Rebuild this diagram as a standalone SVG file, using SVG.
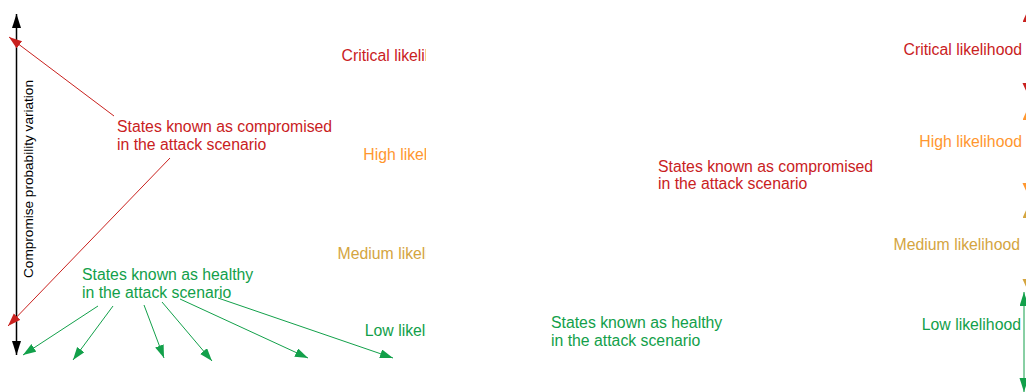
<svg xmlns="http://www.w3.org/2000/svg" width="1026" height="392" viewBox="0 0 1026 392">
<style>
text{font-family:"Liberation Sans",Arial,sans-serif;font-size:15.8px}
.red{fill:#c9211e}.orange{fill:#ff972f}.gold{fill:#d4a53f}.green{fill:#12a04a}
.lr{stroke:#c9211e;stroke-width:1;fill:none}
.lg{stroke:#12a04a;stroke-width:1;fill:none}
.lk{stroke:#000;stroke-width:1.5;fill:none}
.lo{stroke:#ff972f;stroke-width:1;fill:none}
.ly{stroke:#d4a53f;stroke-width:1;fill:none}
</style>
<defs>
<marker id="ar" markerUnits="userSpaceOnUse" markerWidth="14" markerHeight="10" refX="13" refY="4.5" orient="auto-start-reverse"><path d="M0,0 L13,4.5 L0,9 z" fill="#c9211e"/></marker>
<marker id="ag" markerUnits="userSpaceOnUse" markerWidth="14" markerHeight="10" refX="13" refY="4.5" orient="auto-start-reverse"><path d="M0,0 L13,4.5 L0,9 z" fill="#12a04a"/></marker>
<marker id="ak" markerUnits="userSpaceOnUse" markerWidth="15" markerHeight="10" refX="14" refY="4.5" orient="auto-start-reverse"><path d="M0,0 L14,4.5 L0,9 z" fill="#000"/></marker>
<marker id="ao" markerUnits="userSpaceOnUse" markerWidth="14" markerHeight="10" refX="10" refY="4.5" orient="auto-start-reverse"><path d="M0,0 L10,4.5 L0,9 z" fill="#ff972f"/></marker>
<marker id="ay" markerUnits="userSpaceOnUse" markerWidth="14" markerHeight="10" refX="10" refY="4.5" orient="auto-start-reverse"><path d="M0,0 L10,4.5 L0,9 z" fill="#d4a53f"/></marker>
<marker id="arr" markerUnits="userSpaceOnUse" markerWidth="14" markerHeight="10" refX="10" refY="4.5" orient="auto-start-reverse"><path d="M0,0 L10,4.5 L0,9 z" fill="#c9211e"/></marker>
<marker id="agg" markerUnits="userSpaceOnUse" markerWidth="14" markerHeight="10" refX="14" refY="4.5" orient="auto-start-reverse"><path d="M0,0 L14,4.5 L0,9 z" fill="#12a04a"/></marker>
<clipPath id="leftclip"><rect x="0" y="0" width="426" height="392"/></clipPath>
</defs>
<rect width="1026" height="392" fill="#fff"/>

<g id="connectors">
<line class="lk" x1="16.5" y1="14" x2="16.5" y2="355" marker-start="url(#ak)" marker-end="url(#ak)"/>
<line class="lr" x1="114" y1="116" x2="9" y2="37" marker-end="url(#ar)"/>
<line class="lr" x1="170" y1="158" x2="8" y2="326" marker-end="url(#ar)"/>
<line class="lg" x1="98" y1="306" x2="23" y2="355" marker-end="url(#ag)"/>
<line class="lg" x1="113" y1="306" x2="73" y2="360" marker-end="url(#ag)"/>
<line class="lg" x1="144" y1="305" x2="164" y2="358" marker-end="url(#ag)"/>
<line class="lg" x1="162" y1="302" x2="212" y2="361" marker-end="url(#ag)"/>
<line class="lg" x1="180" y1="299" x2="308" y2="358" marker-end="url(#ag)"/>
<line class="lg" x1="218" y1="298" x2="393" y2="358" marker-end="url(#ag)"/>
<line class="lr" x1="1027" y1="12" x2="1027" y2="93" marker-start="url(#arr)" marker-end="url(#arr)"/>
<line class="lo" x1="1027" y1="110" x2="1027" y2="193" marker-start="url(#ao)" marker-end="url(#ao)"/>
<line class="ly" x1="1027" y1="208" x2="1027" y2="289" marker-start="url(#ay)" marker-end="url(#ay)"/>
<line class="lg" x1="1024" y1="292" x2="1024" y2="392" marker-start="url(#agg)" marker-end="url(#agg)"/>
</g>

<g id="axis-label"><text x="33" y="179" text-anchor="middle" style="font-size:13.6px" transform="rotate(-90 33 179)">Compromise probability variation</text></g>

<g id="left-compromised"><text class="red" x="117" y="132">States known as compromised</text><text class="red" x="117" y="149.5">in the attack scenario</text></g>
<g id="left-healthy"><text class="green" x="82" y="280">States known as healthy</text><text class="green" x="82" y="297.5">in the attack scenario</text></g>

<g id="left-levels" clip-path="url(#leftclip)">
<text class="red" x="460" y="61" text-anchor="end">Critical likelihood</text>
<text class="orange" x="466" y="160" text-anchor="end">High likelihood</text>
<text class="gold" x="464" y="259" text-anchor="end">Medium likelihood</text>
<text class="green" x="464" y="336" text-anchor="end">Low likelihood</text>
</g>

<g id="right-compromised"><text class="red" x="658" y="171.5">States known as compromised</text><text class="red" x="658" y="189">in the attack scenario</text></g>
<g id="right-healthy"><text class="green" x="551" y="328">States known as healthy</text><text class="green" x="551" y="345.5">in the attack scenario</text></g>

<g id="critical"><text class="red" x="1022" y="55" text-anchor="end">Critical likelihood</text></g>
<g id="high"><text class="orange" x="1022" y="147" text-anchor="end">High likelihood</text></g>
<g id="medium"><text class="gold" x="1020" y="250" text-anchor="end">Medium likelihood</text></g>
<g id="low"><text class="green" x="1021" y="330" text-anchor="end">Low likelihood</text></g>
</svg>
